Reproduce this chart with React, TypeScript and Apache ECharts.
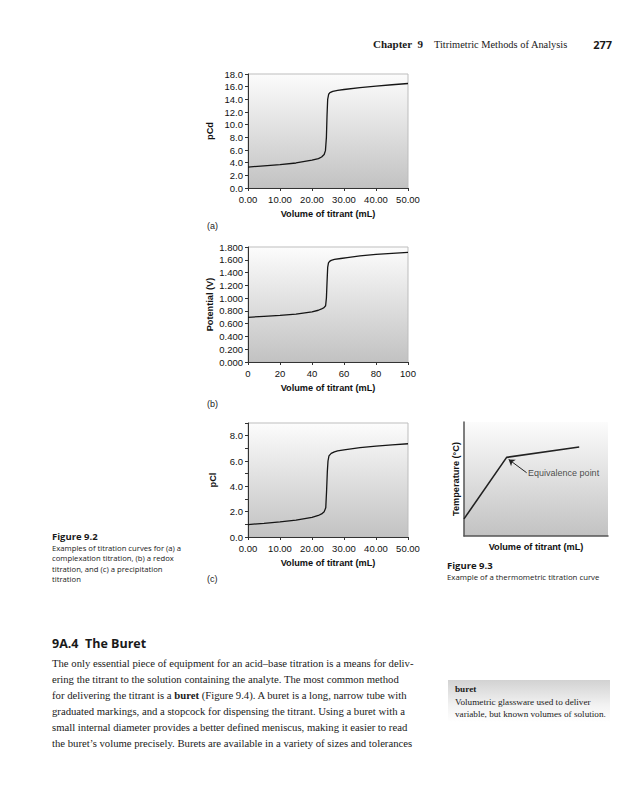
import React, { useEffect, useRef } from "react";
import * as echarts from "echarts";

// (a) complexation titration
const volA = [0, 5, 10, 15, 20, 22, 23, 23.8, 24.2, 24.5, 24.7, 24.9, 25.2, 25.6, 26.5, 28, 30, 35, 40, 45, 50];
const pCd = [3.3, 3.5, 3.7, 3.95, 4.4, 4.65, 4.9, 5.3, 5.9, 8.0, 11.5, 14.0, 14.8, 15.05, 15.25, 15.4, 15.55, 15.85, 16.1, 16.3, 16.5];
// (b) redox titration
const volB = [0, 10, 20, 30, 40, 44, 46, 47.5, 48.5, 49, 49.4, 49.8, 50.3, 51, 52, 54, 58, 62, 70, 80, 90, 100];
const potential = [0.7, 0.715, 0.73, 0.75, 0.785, 0.81, 0.83, 0.85, 0.88, 1.0, 1.25, 1.48, 1.55, 1.575, 1.59, 1.605, 1.62, 1.635, 1.66, 1.685, 1.7, 1.715];
// (c) precipitation titration
const volC = [0, 5, 10, 15, 20, 22, 23, 23.8, 24.3, 24.55, 24.8, 25.0, 25.3, 26, 27, 28, 30, 35, 40, 45, 50];
const pCl = [0.98, 1.08, 1.2, 1.33, 1.55, 1.7, 1.82, 2.0, 2.3, 3.6, 5.2, 6.0, 6.4, 6.6, 6.72, 6.8, 6.88, 7.05, 7.18, 7.28, 7.36];
// Figure 9.3 thermometric (arbitrary units)
const volD = [0, 2.96, 8.0];
const tempD = [1.5, 6.9, 7.8];
const equivArrowFrom = [4.35, 5.55];
const equivArrowTo = [3.1, 6.72];
const equivLabelAt = [4.45, 5.5];

const xTitle = "Volume of titrant (mL)";

const bodyLines = [
  "The only essential piece of equipment for an acid\u2013base titration is a means for deliv-",
  "ering the titrant to the solution containing the analyte. The most common method",
  "for delivering the titrant is a {b|buret} (Figure 9.4). A buret is a long, narrow tube with",
  "graduated markings, and a stopcock for dispensing the titrant. Using a buret with a",
  "small internal diameter provides a better defined meniscus, making it easier to read",
  "the buret\u2019s volume precisely. Burets are available in a variety of sizes and tolerances",
];
const cap92 = [
  "Examples of titration curves for (a) a",
  "complexation titration, (b) a redox",
  "titration, and (c) a precipitation",
  "titration",
];

const SERIF = "'Liberation Serif', 'DejaVu Serif', serif";
const SANS = "'Liberation Sans', Arial, sans-serif";
const CAP = "'Open Sans', 'Noto Sans', sans-serif";

const zip = (a: number[], b: number[]) => a.map((v, i) => [v, b[i]]);

export default function App() {
  const ref = useRef<HTMLDivElement>(null);
  useEffect(() => {
    if (!ref.current) return;
    const chart = echarts.init(ref.current, undefined, { renderer: "svg" });
    const bg = () =>
      new echarts.graphic.LinearGradient(0, 0, 0, 1, [
        { offset: 0, color: "#fcfcfc" },
        { offset: 1, color: "#c2c2c2" },
      ]);
    const grids = [
      { left: 248, top: 74, width: 160, height: 114 },
      { left: 248, top: 247, width: 160, height: 115 },
      { left: 248, top: 423, width: 160, height: 114 },
      { left: 464, top: 422, width: 144, height: 114 },
    ].map((g, i) => ({
      ...g,
      show: true,
      backgroundColor: bg(),
      borderColor: i === 3 ? "transparent" : "#bdbdbd",
      borderWidth: 1,
    }));

    const axisLabel = (fmt: (v: number) => string) => ({
      fontSize: 9.5,
      color: "#111",
      fontFamily: SANS,
      margin: 5,
      formatter: fmt,
    });
    const nameStyle = { fontSize: 9.2, fontWeight: "bold", color: "#111", fontFamily: SANS };
    const line = { lineStyle: { color: "#333", width: 1 } };
    const tick = { show: true, length: 3, lineStyle: { color: "#333" } };

    const xAxes: any[] = [
      { max: 50, interval: 10, fmt: (v: number) => v.toFixed(2) },
      { max: 100, interval: 20, fmt: (v: number) => String(v) },
      { max: 50, interval: 10, fmt: (v: number) => v.toFixed(2) },
    ].map((a, i) => ({
      type: "value",
      gridIndex: i,
      min: 0,
      max: a.max,
      interval: a.interval,
      axisLine: line,
      axisTick: tick,
      axisLabel: { ...axisLabel(a.fmt), margin: 6 },
      splitLine: { show: false },
      name: xTitle,
      nameLocation: "middle",
      nameGap: 21,
      nameTextStyle: nameStyle,
    }));
    xAxes.push({
      type: "value",
      gridIndex: 3,
      min: 0,
      max: 10,
      axisLine: { lineStyle: { color: "#555", width: 1.5 } },
      axisTick: { show: false },
      axisLabel: { show: false },
      splitLine: { show: false },
      name: xTitle,
      nameLocation: "middle",
      nameGap: 6,
      nameTextStyle: nameStyle,
    });

    const yAxes: any[] = [
      { max: 18, interval: 2, name: "pCd", gap: 34, fmt: (v: number) => v.toFixed(1) },
      { max: 1.8, interval: 0.2, name: "Potential (V)", gap: 34, fmt: (v: number) => v.toFixed(3) },
      { max: 9, interval: 1, name: "pCl", gap: 31, fmt: (v: number) => (Math.round(v) % 2 === 0 ? v.toFixed(1) : "") },
    ].map((a, i) => ({
      type: "value",
      gridIndex: i,
      min: 0,
      max: a.max,
      interval: a.interval,
      axisLine: { show: true, ...line },
      axisTick: tick,
      axisLabel: axisLabel(a.fmt),
      splitLine: { show: false },
      name: a.name,
      nameLocation: "middle",
      nameRotate: 90,
      nameGap: a.gap,
      nameTextStyle: nameStyle,
    }));
    yAxes.push({
      type: "value",
      gridIndex: 3,
      min: 0,
      max: 10,
      axisLine: { show: true, lineStyle: { color: "#555", width: 1.5 } },
      axisTick: { show: false },
      axisLabel: { show: false },
      splitLine: { show: false },
      name: "Temperature (\u00b0C)",
      nameLocation: "middle",
      nameRotate: 90,
      nameGap: 4,
      nameTextStyle: nameStyle,
    });

    const curve = (i: number, data: number[][]) => ({
      type: "line",
      xAxisIndex: i,
      yAxisIndex: i,
      data,
      symbol: "none",
      lineStyle: { color: "#151515", width: 1.3 },
      silent: true,
    });

    const txt = (x: number, y: number, text: string, font: any, extra: any = {}) => ({
      type: "text",
      x,
      y,
      silent: true,
      style: { text, fill: "#1a1a1a", textVerticalAlign: "middle", ...font, ...extra },
    });
    const serif = (size: number, weight = "normal") => ({ fontFamily: SERIF, fontSize: size, fontWeight: weight });
    const cap = (size: number, weight = "normal") => ({ fontFamily: CAP, fontSize: size, fontWeight: weight });
    const sans = (size: number, weight = "normal") => ({ fontFamily: SANS, fontSize: size, fontWeight: weight });

    const LM = 52;
    const graphics: any[] = [
      txt(373, 44, "Chapter  9", serif(11, "bold")),
      txt(434, 44, "Titrimetric Methods of Analysis", serif(10.4)),
      txt(612, 44, "277", cap(11, "bold"), { textAlign: "right" }),
      txt(207, 226, "(a)", sans(9)),
      txt(207, 404, "(b)", sans(9)),
      txt(207, 579, "(c)", sans(9)),
      txt(LM, 536, "Figure 9.2", cap(9.5, "bold")),
      ...cap92.map((s, i) => txt(LM, 548 + i * 10.3, s, cap(7.7))),
      txt(447, 565, "Figure 9.3", cap(9.5, "bold")),
      txt(447, 577, "Example of a thermometric titration curve", cap(7.8)),
      txt(LM, 643, "9A.4  The Buret", cap(12.5, "bold")),
      ...bodyLines.map((s, i) =>
        txt(LM, 663 + i * 16, s, serif(10.7), {
          rich: { b: { fontFamily: SERIF, fontSize: 10.7, fontWeight: "bold", fill: "#1a1a1a" } },
        })
      ),
      {
        type: "rect",
        silent: true,
        shape: { x: 448, y: 680, width: 162, height: 42 },
        style: {
          fill: new echarts.graphic.LinearGradient(0, 0, 0, 1, [
            { offset: 0, color: "#d2d2d2" },
            { offset: 0.6, color: "#f2f2f2" },
            { offset: 1, color: "#ffffff" },
          ]),
        },
      },
      txt(455, 689, "buret", serif(9.2, "bold")),
      txt(455, 702, "Volumetric glassware used to deliver", serif(9.2)),
      txt(455, 714, "variable, but known volumes of solution.", serif(9.2)),
    ];

    chart.setOption({
      animation: false,
      backgroundColor: "#ffffff",
      grid: grids,
      xAxis: xAxes,
      yAxis: yAxes,
      series: [
        curve(0, zip(volA, pCd)),
        curve(1, zip(volB, potential)),
        curve(2, zip(volC, pCl)),
        {
          ...curve(3, zip(volD, tempD)),
          lineStyle: { color: "#222", width: 1.6 },
          markLine: {
            silent: true,
            symbol: ["none", "arrow"],
            symbolSize: 6,
            lineStyle: { color: "#222", width: 1, type: "solid" },
            label: { show: false },
            data: [[{ coord: equivArrowFrom }, { coord: equivArrowTo }]],
          },
        },
        {
          type: "scatter",
          xAxisIndex: 3,
          yAxisIndex: 3,
          symbolSize: 0,
          silent: true,
          data: [equivLabelAt],
          label: {
            show: true,
            position: "right",
            distance: 0,
            formatter: "Equivalence point",
            fontFamily: SANS,
            fontSize: 9,
            color: "#222",
          },
        },
      ],
      graphic: graphics,
    });
    return () => chart.dispose();
  }, []);
  return <div ref={ref} style={{ position: "absolute", left: 0, top: 0, width: 640, height: 800 }} />;
}
